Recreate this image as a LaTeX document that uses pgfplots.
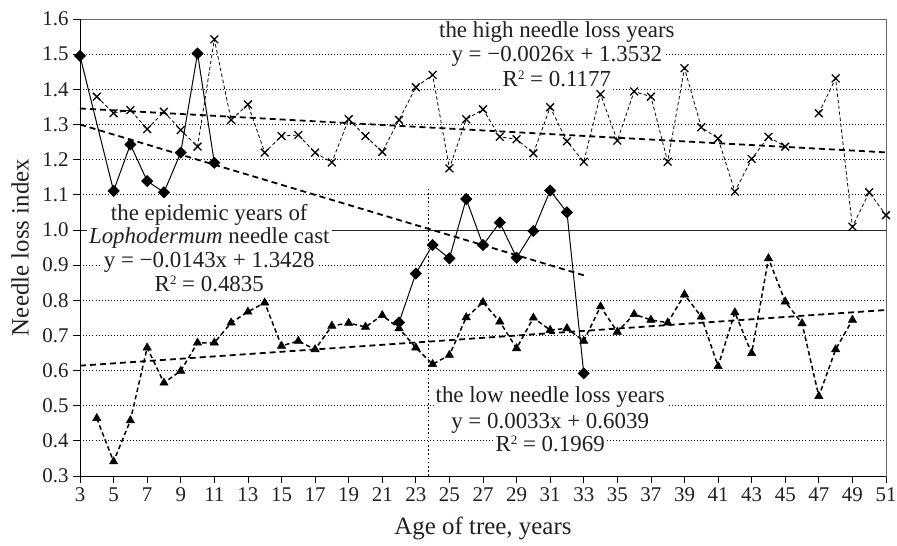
\documentclass[border=0pt]{standalone}
\usepackage{fontspec}
\setmainfont{Liberation Serif}
\usepackage{pgfplots}
\pgfplotsset{compat=1.18}
\definecolor{txt}{HTML}{231F20}
\newcommand{\sqr}{\raisebox{7bp}{\fontsize{13}{13}\selectfont 2}}
\begin{document}
\begin{tikzpicture}
\useasboundingbox (0,0) rectangle (897bp,546bp);
\begin{axis}[
  at={(80bp,70bp)}, anchor=south west,
  scale only axis, width=806bp, height=457bp,
  xmin=3, xmax=51, ymin=0.3, ymax=1.6,
  xtick={3,5,...,51},
  ytick={0.3,0.4,0.5,0.6,0.7,0.8,0.9,1.0,1.1,1.2,1.3,1.4,1.5,1.6},
  xtick pos=bottom, ytick pos=left,
  tick align=outside, major tick length=7bp,
  tick style={black, line width=0.8pt},
  axis line style={black!60, line width=0.9pt},
  ymajorgrids, major grid style={black, line width=0.8pt, dash pattern=on 0.9bp off 2.2bp},
  /pgf/number format/assume math mode=true,
  yticklabel style={/pgf/number format/fixed, /pgf/number format/fixed zerofill, /pgf/number format/precision=1},
  ticklabel style={font=\fontsize{21}{25}\selectfont, text=txt},
  xticklabel style={yshift=-1bp},
  yticklabel style={xshift=-1bp},
  xlabel={Age of tree, years},
  ylabel={Needle loss index},
  label style={font=\fontsize{25}{29}\selectfont, text=txt},
  xlabel style={at={(rel axis cs:0.5,0)}, anchor=center, yshift=-52bp},
  ylabel style={at={(rel axis cs:0,0.5)}, anchor=center, yshift=60bp},
  unbounded coords=jump,
  clip=false,
]
% reference line at 1.0
\draw[black!85, line width=0.8pt] (axis cs:3,1.0) -- (axis cs:51,1.0);
% left & bottom axis lines in black
\draw[black, line width=0.9pt] (rel axis cs:0,1) -- (rel axis cs:0,0) -- (rel axis cs:1,0);

% labels (white boxes)
\tikzset{lab/.style={fill=white, anchor=base, font=\fontsize{23}{27}\selectfont, text=txt, inner xsep=2bp, inner ysep=0bp, text height=16bp, text depth=6.5bp}}
\node[lab] at (axis cs:31.4,1.546) {the high needle loss years};
\node[lab] at (axis cs:31.4,1.478) {y = −0.0026x + 1.3532};
\node[lab] at (axis cs:31.4,1.409) {R\sqr{} = 0.1177};

\node[lab] at (axis cs:10.7,1.028) {the epidemic years of};
\node[lab] at (axis cs:10.7,0.960) {\textit{Lophodermum} needle cast};
\node[lab] at (axis cs:10.7,0.894) {y = −0.0143x + 1.3428};
\node[lab] at (axis cs:10.7,0.826) {R\sqr{} = 0.4835};

\node[lab] at (axis cs:31.0,0.508) {the low needle loss years};
\node[lab] at (axis cs:31.0,0.436) {y = 0.0033x + 0.6039};
\node[lab] at (axis cs:31.0,0.371) {R\sqr{} = 0.1969};

% vertical dotted line
\draw[black, line width=1.6pt, dash pattern=on 1.6bp off 2.6bp] (axis cs:23.75,0.3) -- (axis cs:23.75,1.12);

% trend lines
\addplot[black, line width=1.8pt, dash pattern=on 6bp off 4bp] coordinates {(3,1.3454) (51,1.2206)};
\addplot[black, line width=1.8pt, dash pattern=on 6bp off 4bp] coordinates {(3,1.2999) (33,0.8709)};
\addplot[black, line width=1.8pt, dash pattern=on 6bp off 4bp] coordinates {(3,0.6138) (51,0.7722)};

% high needle loss years
\addplot[black, line width=0.8pt, dash pattern=on 3.5bp off 2.5bp, mark=x, mark size=5.5bp, mark options={solid, line width=1.3pt}] coordinates {
(4,1.379) (5,1.332) (6,1.341) (7,1.287) (8,1.336) (9,1.284) (10,1.237) (11,1.542)
(12,1.313) (13,1.357) (14,1.220) (15,1.267) (16,1.270) (17,1.220) (18,1.192) (19,1.315)
(20,1.267) (21,1.222) (22,1.313) (23,1.406) (24,1.441) (25,1.175) (26,1.315) (27,1.343)
(28,1.265) (29,1.258) (30,1.218) (31,1.349) (32,1.252) (33,1.194) (34,1.386) (35,1.254)
(36,1.394) (37,1.379) (38,1.194) (39,1.460) (40,1.292) (41,1.260) (42,1.109) (43,1.202)
(44,1.265) (45,1.237) (46,nan) (47,1.332) (48,1.431) (49,1.009) (50,1.107) (51,1.042)};

% low needle loss years
\addplot[black, line width=1.5pt, dash pattern=on 4.5bp off 3bp, mark=triangle*, mark size=4.8bp, mark options={solid, line width=0.5pt}] coordinates {
(4,0.464) (5,0.341) (6,0.458) (7,0.665) (8,0.565) (9,0.599) (10,0.679) (11,0.679)
(12,0.736) (13,0.767) (14,0.793) (15,0.670) (16,0.684) (17,0.660) (18,0.727) (19,0.735)
(20,0.724) (21,0.757) (22,0.720) (23,0.665) (24,0.618) (25,0.644) (26,0.751) (27,0.794)
(28,0.739) (29,0.663) (30,0.750) (31,0.715) (32,0.720) (33,0.684) (34,0.782) (35,0.710)
(36,0.760) (37,0.744) (38,0.736) (39,0.816) (40,0.753) (41,0.612) (42,0.765) (43,0.649)
(44,0.919) (45,0.796) (46,0.734) (47,0.527) (48,0.660) (49,0.744)};

% epidemic years
\addplot[black, line width=1pt, mark=square*, mark size=3.8bp, mark options={solid, rotate=45}] coordinates {
(3,1.495) (5,1.111) (6,1.243) (7,1.139) (8,1.107) (9,1.220) (10,1.502) (11,1.191)
(16,nan)
(22,0.737) (23,0.876) (24,0.957) (25,0.919) (26,1.088) (27,0.957) (28,1.021) (29,0.921)
(30,0.997) (31,1.112) (32,1.050) (33,0.592)};
\end{axis}
\end{tikzpicture}
\end{document}
